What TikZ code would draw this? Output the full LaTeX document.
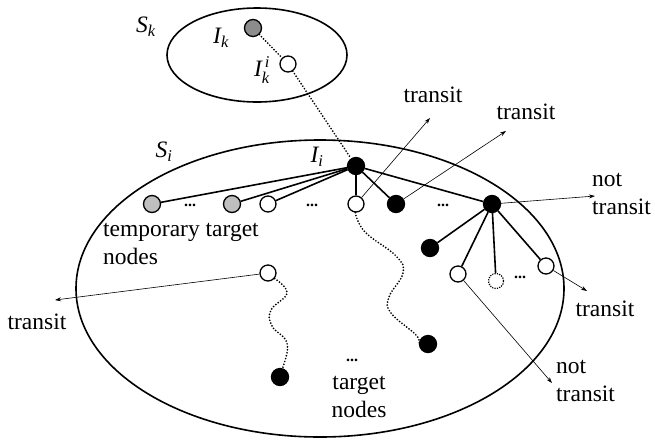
\documentclass[tikz,border=0pt]{standalone}
\usepackage{fontspec}
\usepackage{amsmath}
\setmainfont{Liberation Serif}
\usetikzlibrary{arrows.meta}
\begin{document}
\begin{tikzpicture}[x=1pt,y=-1pt,
  every node/.style={font=\fontsize{23.5}{28}\selectfont, inner sep=0pt},
  vtx/.style={circle, draw, line width=1.3pt, minimum size=17pt, inner sep=0pt},
  blk/.style={vtx, fill=black},
  wht/.style={vtx, fill=white, minimum size=16pt},
  gry/.style={vtx, fill=black!25},
  dgry/.style={vtx, fill=black!45},
  dotc/.style={vtx, fill=white, minimum size=15pt, dash pattern=on 1.2pt off 1.2pt, line width=1.2pt},
  edge/.style={line width=1.6pt},
  dots/.style={line width=1.9pt, line cap=round, dash pattern=on 0pt off 3pt},
  arr/.style={line width=0.6pt, -{Stealth[length=6pt,width=4pt]}},
  ell/.style={line width=1.6pt},
  ddd/.style={font=\fontsize{16}{16}\selectfont\bfseries},
  lbl/.style={align=left}]
\useasboundingbox (0,0) rectangle (655,440);
% sets
\draw[ell] (257,55) ellipse [x radius=90, y radius=47];
\draw[ell] (320,288.5) ellipse [x radius=244, y radius=148.5];
% vertices
\node[dgry] (Ik) at (253,28) {};
\node[wht] (Iki) at (288,64) {};
\node[blk] (Ii) at (356,166) {};
\node[gry] (g1) at (152,204) {};
\node[gry] (g2) at (232,204) {};
\node[wht] (w1) at (268,204) {};
\node[wht] (w2) at (356,204) {};
\node[blk] (b1) at (396,204) {};
\node[blk] (B) at (492,204) {};
\node[blk] (b2) at (430,248) {};
\node[wht] (w3) at (458,274) {};
\node[dotc] (dc) at (496,281) {};
\node[wht] (w4) at (546,266) {};
\node[wht] (w5) at (268,273) {};
\node[blk] (b3) at (280,377) {};
\node[blk] (b4) at (428,344) {};
% ellipsis dots
\node[ddd] (e1) at (190,205) {...};
\node[ddd] (e2) at (312,205) {...};
\node[ddd] (e3) at (443,205) {...};
\node[ddd] (e4) at (520,277) {...};
\node[ddd] (e5) at (352,360) {...};
% labels
\node (lSk) at (146,27) {$\textit{S}_{\textit{k}}$};
\node (lIk) at (221,38) {$\textit{I}_{\textit{k}}$};
\node (lIki) at (262,70) {$\textit{I}^{\,\textit{i}}_{\textit{k}}$};
\node (lSi) at (164,152) {$\textit{S}_{\textit{i}}$};
\node (lIi) at (317,157) {$\textit{I}_{\textit{i}}$};
\node (t1) at (433,95) {transit};
\node (t2) at (526,112) {transit};
\node[lbl, anchor=west] (t3) at (592,194) {not\\transit};
\node (t4) at (605,309) {transit};
\node[lbl, anchor=west] (t5) at (556,381) {not\\transit};
\node (t6) at (37,322) {transit};
\node[lbl, anchor=west] (tt) at (103,244) {temporary target\\nodes};
\node[align=center] (tn) at (359,397) {target\\nodes};
% tree edges
\foreach \n in {g1,g2,w1,w2,b1,B} \draw[edge] (Ii) -- (\n);
\foreach \n in {b2,w3,dc,w4} \draw[edge] (B) -- (\n);
% dotted paths
\draw[dots] (Ik) -- (Iki);
\draw[dots] (Iki) -- (Ii);
\draw[dots] plot[smooth, tension=0.7] coordinates {(w5.-40) (287,293) (271,310) (272,326) (287,343) (283,367) (b3.north)};
\draw[dots] plot[smooth, tension=0.7] coordinates {(w2.-95) (365,232) (396,256) (403,273) (389,297) (391,313) (416,335) (b4.west)};
% arrows
\coordinate (a1) at (430,118);
\coordinate (a2) at (506,131);
\coordinate (a3) at (595,196);
\coordinate (a4) at (587,291);
\coordinate (a5) at (552,383);
\coordinate (a6) at (55,300);
\draw[arr] (w2) -- (a1);
\draw[arr] (b1) -- (a2);
\draw[arr] (B) -- (a3);
\draw[arr] (w4) -- (a4);
\draw[arr] (w3) -- (a5);
\draw[arr] (w5) -- (a6);
\end{tikzpicture}
\end{document}
